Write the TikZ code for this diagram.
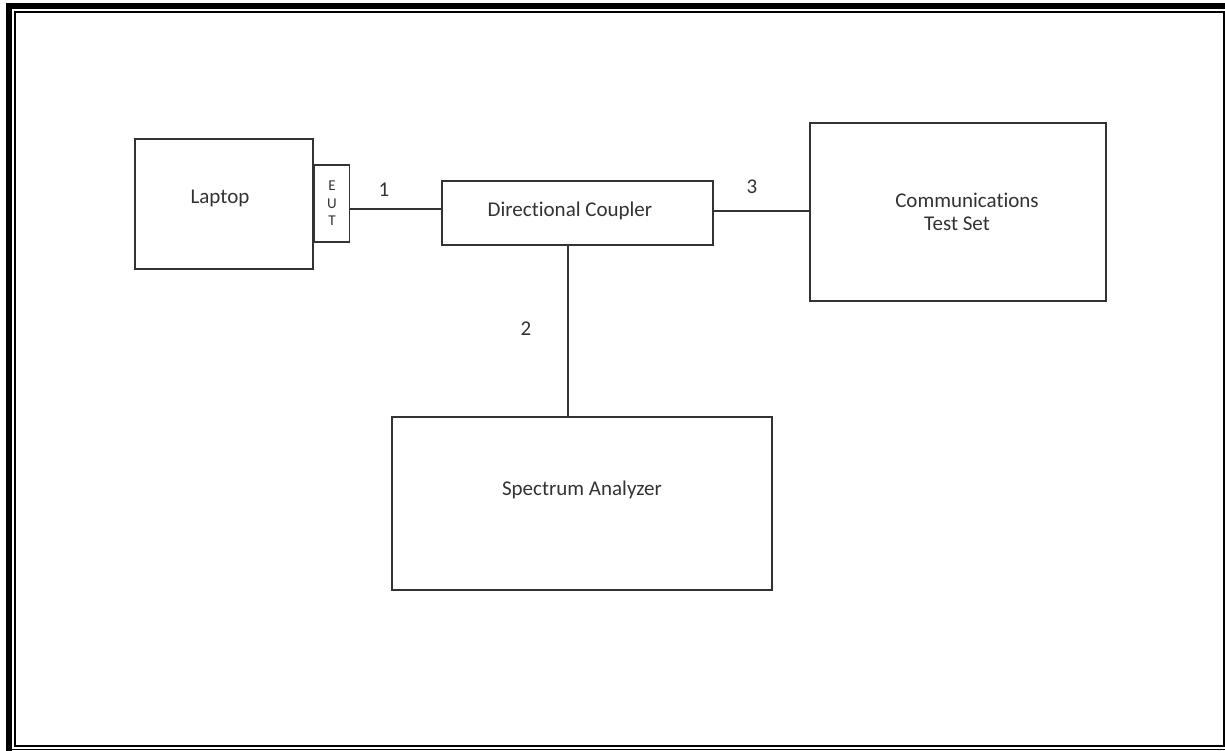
\documentclass[tikz,border=0pt]{standalone}
\usepackage{fontspec}
\setmainfont{Carlito}[RawFeature={-liga}]
\begin{document}
\begin{tikzpicture}[x=1pt,y=-1pt,
  box/.style={draw=black!80,line width=1.5pt,fill=white,inner sep=0pt},
  txt/.style={align=center,inner sep=0pt,font=\fontsize{21}{23}\selectfont,text=black!80},
  wire/.style={draw=black!80,line width=1.5pt},
  lbl/.style={font=\fontsize{21}{24}\selectfont,text=black!80,inner sep=0pt}]
\useasboundingbox (0,0) rectangle (1225,751);
\fill[white] (0,0) rectangle (1225,751);
% frame
\fill[black] (6,3) rectangle (1225,9);
\fill[black] (6,3) rectangle (12,751);
\draw[line width=2pt] (15,12) rectangle (1223.5,745.5);
\draw[line width=1.5pt] (12,749.5) -- (1225,749.5);
% boxes
\node[box,minimum width=178pt,minimum height=130pt] (laptop) at (224,204) {};
\node[box,minimum width=35pt,minimum height=77pt,anchor=west] (eut) at (laptop.east |- 0,203.5) {};
\node[box,minimum width=271pt,minimum height=64pt] (dc) at (577.5,213) {};
\node[box,minimum width=296pt,minimum height=178pt] (cts) at (958,212) {};
\node[box,minimum width=380pt,minimum height=173pt] (sa) at (582,503.5) {};
% texts
\node[txt] (tlaptop) at (220,198) {Laptop};
\node[txt,font=\fontsize{15}{17.5}\selectfont] (teut) at (eut.center) {E\\U\\T};
\node[txt] (tdc) at (570,211) {Directional Coupler};
\node[txt] (tcts1) at (967,200) {Communications};
\node[txt,anchor=base] (tcts2) at ([yshift=-23pt]tcts1.base -| 957,0) {Test Set};
\node[txt] (tsa) at (582,490) {Spectrum Analyzer};
% connectors
\coordinate (p1) at (348,209);
\draw[wire] (eut.east |- p1) -- (dc.west |- p1);
\coordinate (p3) at (713,211);
\draw[wire] (dc.east |- p3) -- (cts.west |- p3);
\coordinate (p2) at (568,300);
\draw[wire] (dc.south -| p2) -- (sa.north -| p2);
% labels
\node[lbl] (l1) at (384,190) {1};
\node[lbl] (l2) at (526,329) {2};
\node[lbl] (l3) at (752,187) {3};
\end{tikzpicture}
\end{document}
